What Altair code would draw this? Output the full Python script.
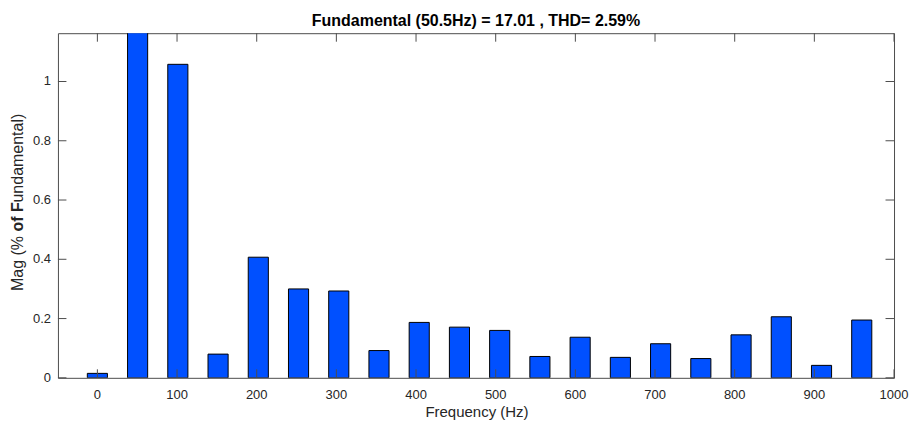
import altair as alt
import pandas as pd

freqs = [0, 50.5, 101, 151.5, 202, 252.5, 303, 353.5, 404, 454.5,
         505, 555.5, 606, 656.5, 707, 757.5, 808, 858.5, 909, 959.5]
mags = [0.015, 100.0, 1.058, 0.080, 0.407, 0.300, 0.293, 0.092, 0.187, 0.171,
        0.160, 0.072, 0.137, 0.069, 0.115, 0.065, 0.145, 0.206, 0.042, 0.195]
x_ticks = [0, 100, 200, 300, 400, 500, 600, 700, 800, 900, 1000]
x_tick_labels = ["0", "100", "200", "300", "400", "500", "600", "700", "800", "900", "1000"]
y_ticks = [0, 0.2, 0.4, 0.6, 0.8, 1.0]
y_tick_labels = ["0", "0.2", "0.4", "0.6", "0.8", "1"]
title_text = "Fundamental (50.5Hz) = 17.01 , THD= 2.59%"
x_title = "Frequency (Hz)"
y_title_parts = ["Mag (%", "of F", "undamental)"]

X_DOMAIN = [-49.5, 1000]
Y_DOMAIN = [0, 1.163]
W, H = 837, 345
TICK = 8.5
AXIS_COLOR = "#4d4d4d"
TEXT_COLOR = "#262626"
FONT = "Liberation Sans"

bars_df = pd.DataFrame({"f": freqs, "mag": mags})
xt_df = pd.DataFrame({"t": x_ticks, "lab": x_tick_labels})
yt_df = pd.DataFrame({"t": y_ticks, "lab": y_tick_labels})

xscale = alt.Scale(domain=X_DOMAIN, nice=False, zero=False)
yscale = alt.Scale(domain=Y_DOMAIN, nice=False, zero=False)

bars = alt.Chart(bars_df).transform_calculate(
    x1="datum.f - 50.5 * 0.25", x2="datum.f + 50.5 * 0.25"
).mark_bar(color="#0050ff", stroke="#000000", strokeWidth=1, clip=True).encode(
    x=alt.X("x1:Q", scale=xscale, axis=None),
    x2="x2:Q",
    y=alt.Y("mag:Q", scale=yscale, axis=None),
    y2=alt.datum(0),
)

bottom_ticks = alt.Chart(xt_df).mark_rule(color=AXIS_COLOR, strokeWidth=1).encode(
    x=alt.X("t:Q", scale=xscale), y=alt.value(H), y2=alt.value(H - TICK))
top_ticks = alt.Chart(xt_df).mark_rule(color=AXIS_COLOR, strokeWidth=1).encode(
    x=alt.X("t:Q", scale=xscale), y=alt.value(0), y2=alt.value(TICK))
left_ticks = alt.Chart(yt_df).mark_rule(color=AXIS_COLOR, strokeWidth=1).encode(
    y=alt.Y("t:Q", scale=yscale), x=alt.value(0), x2=alt.value(TICK))
right_ticks = alt.Chart(yt_df).mark_rule(color=AXIS_COLOR, strokeWidth=1).encode(
    y=alt.Y("t:Q", scale=yscale), x=alt.value(W), x2=alt.value(W - TICK))

x_labels = alt.Chart(xt_df).mark_text(
    font=FONT, fontSize=13, color=TEXT_COLOR,
    align="center", baseline="alphabetic").encode(
    x=alt.X("t:Q", scale=xscale), y=alt.value(H + 21), text="lab:N")
y_labels = alt.Chart(yt_df).mark_text(
    font=FONT, fontSize=13, color=TEXT_COLOR,
    align="right", baseline="middle").encode(
    y=alt.Y("t:Q", scale=yscale), x=alt.value(-7), text="lab:N")

title = alt.Chart(pd.DataFrame({"s": [title_text]})).mark_text(
    font=FONT, fontSize=16, fontWeight="bold", color="#000000",
    align="center", baseline="alphabetic").encode(
    x=alt.value(W / 2), y=alt.value(-7.5), text="s:N")

xtitle = alt.Chart(pd.DataFrame({"s": [x_title]})).mark_text(
    font=FONT, fontSize=15, color=TEXT_COLOR,
    align="center", baseline="alphabetic").encode(
    x=alt.value(W / 2 + 1), y=alt.value(384), text="s:N")

yt1 = alt.Chart(pd.DataFrame({"s": [y_title_parts[0]]})).mark_text(
    font=FONT, fontSize=16, color=TEXT_COLOR, angle=270,
    align="right", baseline="middle").encode(
    x=alt.value(-40), y=alt.value(203), text="s:N")
yt2 = alt.Chart(pd.DataFrame({"s": [y_title_parts[1]]})).mark_text(
    font=FONT, fontSize=16, fontWeight="bold", color=TEXT_COLOR,
    angle=270, align="center", baseline="middle").encode(
    x=alt.value(-40), y=alt.value(184), text="s:N")
yt3 = alt.Chart(pd.DataFrame({"s": [y_title_parts[2]]})).mark_text(
    font=FONT, fontSize=16, color=TEXT_COLOR, angle=270,
    align="left", baseline="middle").encode(
    x=alt.value(-40), y=alt.value(169.5), text="s:N")

chart = alt.layer(bars, bottom_ticks, top_ticks, left_ticks, right_ticks,
                  x_labels, y_labels, title, xtitle, yt1, yt2, yt3).properties(
    width=W, height=H,
    autosize=alt.AutoSizeParams(type="none"),
    padding={"left": 50, "top": 25, "right": 15, "bottom": 42},
    background="white",
).configure_view(stroke=AXIS_COLOR, strokeWidth=1)

chart.save("out.html", embed_options={"renderer": "svg", "actions": False})
